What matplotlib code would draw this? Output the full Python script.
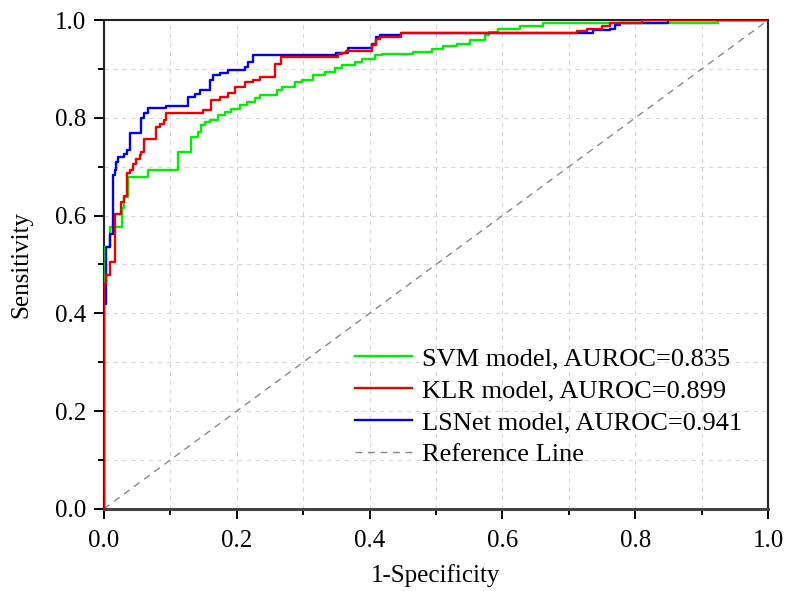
import numpy as np
import matplotlib.pyplot as plt
from matplotlib.ticker import MultipleLocator

# step corners: at fpr[i] the curve jumps up to tpr[i]
svm_fpr = [0.0, 0.0, 0.0085, 0.028, 0.031, 0.036, 0.066, 0.111, 0.1315, 0.1416, 0.1466,
           0.1516, 0.160, 0.172, 0.182, 0.192, 0.205, 0.215, 0.227, 0.235, 0.26, 0.268,
           0.288, 0.298, 0.315, 0.333, 0.348, 0.358, 0.378, 0.388, 0.408, 0.418, 0.466,
           0.494, 0.511, 0.531, 0.551, 0.574, 0.58, 0.593, 0.626, 0.661, 0.925, 1.0]
svm_tpr = [0.0, 0.536, 0.577, 0.615, 0.638, 0.678, 0.693, 0.73, 0.761, 0.771, 0.785,
           0.792, 0.795, 0.806, 0.8125, 0.819, 0.826, 0.833, 0.84, 0.847, 0.857, 0.864,
           0.874, 0.877, 0.888, 0.894, 0.901, 0.908, 0.915, 0.92, 0.928, 0.93, 0.935,
           0.94, 0.946, 0.952, 0.959, 0.969, 0.976, 0.982, 0.988, 0.995, 1.0, 1.0]

klr_fpr = [0.0, 0.0, 0.0035, 0.0085, 0.017, 0.026, 0.03, 0.035, 0.0387, 0.0437, 0.0487,
           0.0537, 0.056, 0.061, 0.079, 0.084, 0.091, 0.094, 0.149, 0.162, 0.175, 0.187,
           0.197, 0.212, 0.225, 0.235, 0.257, 0.2665, 0.353, 0.358, 0.365, 0.403, 0.41,
           0.416, 0.448, 0.712, 0.727, 0.75, 0.762, 0.81, 1.0]
klr_tpr = [0.0, 0.46, 0.478, 0.505, 0.604, 0.628, 0.64, 0.687, 0.693, 0.705, 0.715,
           0.724, 0.73, 0.756, 0.782, 0.788, 0.795, 0.81, 0.816, 0.836, 0.843, 0.85,
           0.864, 0.874, 0.877, 0.884, 0.911, 0.924, 0.93, 0.932, 0.937, 0.949, 0.962,
           0.966, 0.973, 0.978, 0.982, 0.987, 0.994, 1.0, 1.0]

lsnet_fpr = [0.0, 0.0, 0.0035, 0.0085, 0.0136, 0.016, 0.0186, 0.022, 0.030, 0.035, 0.0387,
             0.056, 0.061, 0.066, 0.094, 0.1265, 0.137, 0.145, 0.160, 0.165, 0.175, 0.187,
             0.212, 0.217, 0.225, 0.35, 0.368, 0.403, 0.41, 0.416, 0.448, 0.737, 0.762,
             0.77, 0.777, 0.85, 1.0]
lsnet_tpr = [0.0, 0.42, 0.536, 0.563, 0.683, 0.693, 0.71, 0.72, 0.727, 0.734, 0.77,
             0.8, 0.81, 0.82, 0.825, 0.843, 0.849, 0.857, 0.877, 0.888, 0.891, 0.898,
             0.905, 0.915, 0.928, 0.932, 0.942, 0.952, 0.966, 0.969, 0.973, 0.979, 0.982,
             0.989, 0.994, 1.0, 1.0]

labels = ['SVM model, AUROC=0.835', 'KLR model, AUROC=0.899', 'LSNet model, AUROC=0.941']

plt.rcParams['font.family'] = ['Liberation Serif', 'DejaVu Serif']

fig = plt.figure(figsize=(7.87, 5.91), dpi=100)
ax = fig.add_axes([0.132, 0.139, 0.844, 0.827])

l1, = ax.plot(svm_fpr, svm_tpr, drawstyle='steps-post', color='#00ee00', lw=1.7, zorder=3)
l3, = ax.plot(lsnet_fpr, lsnet_tpr, drawstyle='steps-post', color='#0000ee', lw=1.7, zorder=4)
l2, = ax.plot(klr_fpr, klr_tpr, drawstyle='steps-post', color='#ee0000', lw=1.7, zorder=5)
l4, = ax.plot([0, 1], [0, 1], ls=(0, (5, 4)), color='#888888', lw=1.0, zorder=2)

ax.set_xlim(0, 1)
ax.set_ylim(0, 1)
ax.xaxis.set_major_locator(MultipleLocator(0.2))
ax.xaxis.set_minor_locator(MultipleLocator(0.1))
ax.yaxis.set_major_locator(MultipleLocator(0.2))
ax.yaxis.set_minor_locator(MultipleLocator(0.1))
ax.xaxis.set_major_formatter(lambda v, p: f'{v:.1f}')
ax.yaxis.set_major_formatter(lambda v, p: f'{v:.1f}')
ax.grid(which='both', ls=(0, (4, 4)), color='#d8d8d8', lw=0.8)
ax.set_axisbelow(True)
ax.tick_params(which='major', direction='out', length=7, width=1.4, labelsize=18)
ax.tick_params(axis='x', which='major', pad=8)
ax.tick_params(axis='y', which='major', pad=6)
ax.tick_params(which='minor', direction='out', length=4, width=1.4)
for s in ax.spines.values():
    s.set_linewidth(1.5)
    s.set_color('#222222')
ax.spines['bottom'].set_linewidth(2.2)
ax.spines['bottom'].set_color('#444444')

ax.set_xlabel('1-Specificity', fontsize=18, labelpad=9)
ax.set_ylabel('Sensitivity', fontsize=18, labelpad=16)

ax.legend([l1, l2, l3, l4], labels + ['Reference Line'], loc='lower right',
          bbox_to_anchor=(0.985, 0.055), frameon=False, fontsize=19,
          handlelength=2.15, handletextpad=0.4, labelspacing=0.32, borderaxespad=0.2)

fig.savefig('out.png', dpi=100)
